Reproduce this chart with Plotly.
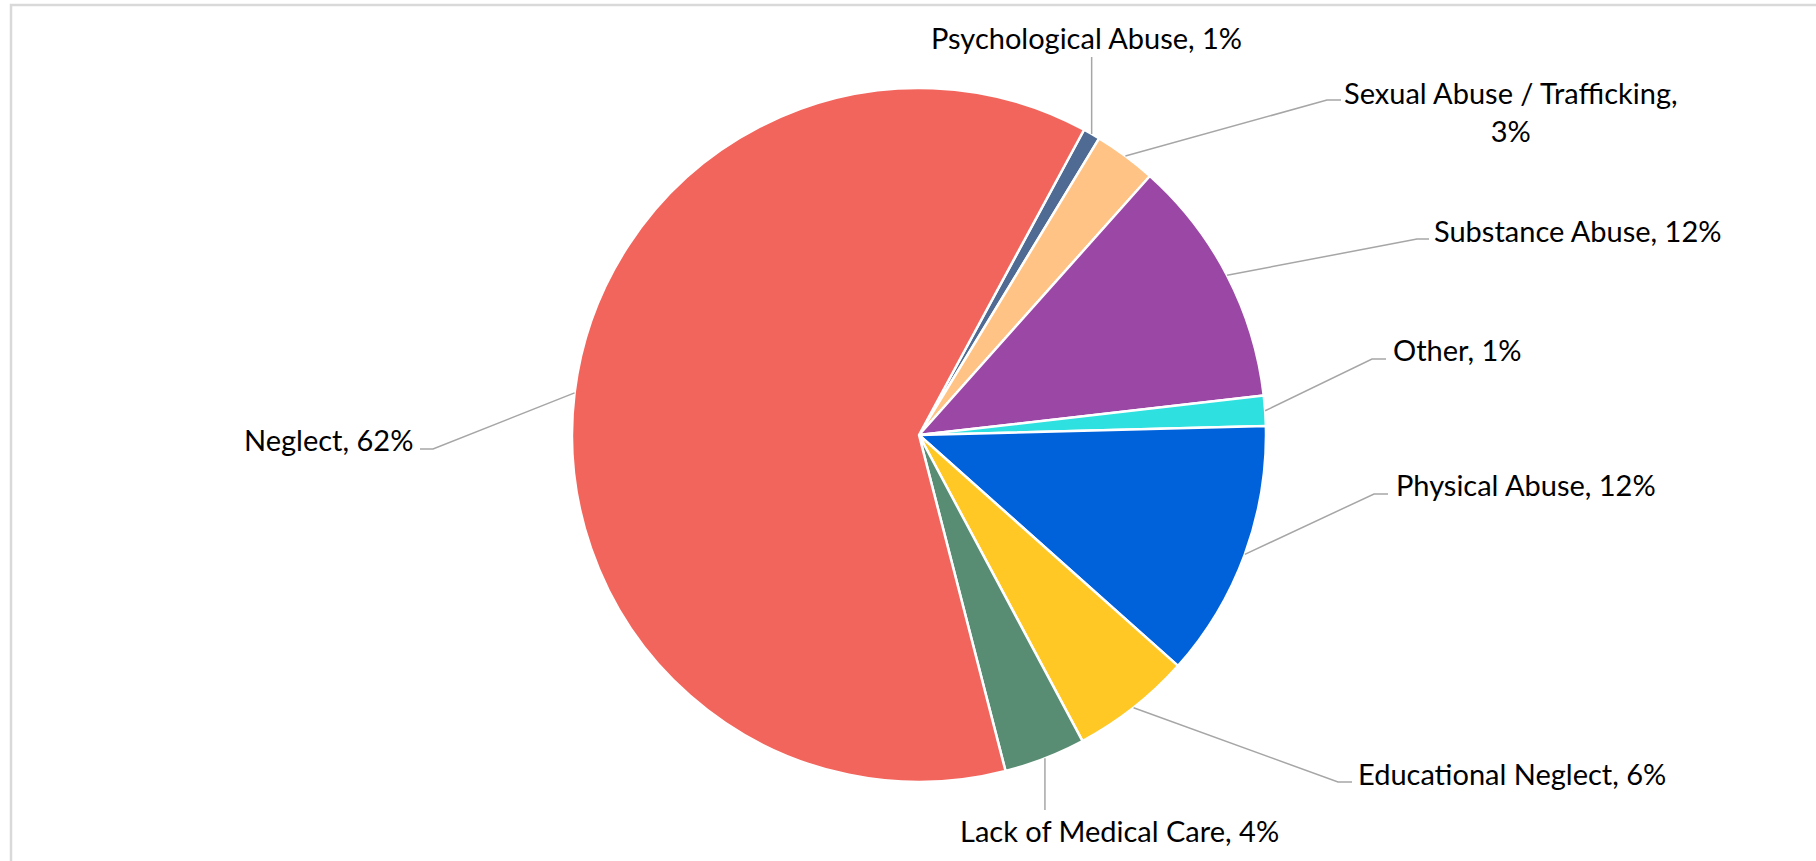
import math
import plotly.graph_objects as go

# ---------------- data ----------------
categories = ["Psychological Abuse", "Sexual Abuse / Trafficking", "Substance Abuse", "Other",
              "Physical Abuse", "Educational Neglect", "Lack of Medical Care", "Neglect"]
values = [0.8, 2.9, 11.6, 1.4, 12.0, 5.6, 3.8, 61.9]
colors = ["#4F6B94", "#FFC385", "#9B47A6", "#2EE0DF", "#0062DB", "#FFC825", "#588C73", "#F1655C"]
label_text = ["Psychological Abuse", "Sexual Abuse / Trafficking,<br>", "Substance Abuse", "Other",
              "Physical Abuse", "Educational Neglect", "Lack of Medical Care", "Neglect"]

# ---------------- layout constants (pixels) ----------------
W, H = 1816, 861
CX, CY, RAD = 919, 435, 347
ROTATION = 28.4
FONT = "Lato"
FSIZE = 29
LINE_COLOR = "#A6A6A6"

# label placement: label anchor (x, y, xanchor), leader elbow and end points
label_layout = [
    dict(x=1086, y=38, xanchor="center", pts=[("start", 57)]),
    dict(x=1511, y=111, xanchor="center", pts=[(1327, 100), (1341, 100)]),
    dict(x=1432, y=230, xanchor="left", pts=[(1417, 239), (1429, 239)]),
    dict(x=1391, y=349, xanchor="left", pts=[(1372, 359), (1386, 359)]),
    dict(x=1394, y=484, xanchor="left", pts=[(1374, 494), (1388, 494)]),
    dict(x=1356, y=773, xanchor="left", pts=[(1338, 782), (1352, 782)]),
    dict(x=1119, y=830, xanchor="center", pts=[("start", 810)]),
    dict(x=415, y=439, xanchor="right", pts=[(433, 449), (420, 449)]),
]


def px(x):
    return x / W


def py(y):
    return 1 - y / H


fig = go.Figure(go.Pie(
    labels=categories,
    values=values,
    sort=False,
    direction="clockwise",
    rotation=ROTATION,
    marker=dict(colors=colors, line=dict(color="white", width=2.5)),
    textinfo="none",
    hoverinfo="label+percent",
    domain=dict(x=[px(CX - RAD), px(CX + RAD)], y=[py(CY + RAD), py(CY - RAD)]),
))

total = sum(values)
shapes = []
annotations = []
cum = 0.0
for i, v in enumerate(values):
    mid = ROTATION + 360.0 * (cum + v / 2.0) / total
    cum += v
    a = math.radians(mid)
    sx = CX + RAD * math.sin(a)
    sy = CY - RAD * math.cos(a)
    lay = label_layout[i]
    path = f"M {px(sx)},{py(sy)}"
    for (ex, ey) in lay["pts"]:
        if ex == "start":
            ex = sx
        path += f" L {px(ex)},{py(ey)}"
    shapes.append(dict(type="path", xref="paper", yref="paper", path=path,
                       line=dict(color=LINE_COLOR, width=1.5)))
    pct = round(100.0 * v / total)
    txt = label_text[i] + ("" if label_text[i].endswith("<br>") else ", ") + f"{pct}%"
    annotations.append(dict(x=px(lay["x"]), y=py(lay["y"]), xref="paper", yref="paper",
                            text=txt, showarrow=False, xanchor=lay["xanchor"], yanchor="middle",
                            align="center", font=dict(family=FONT, size=FSIZE, color="#000000")))

# chart-area border (top and left edges visible)
shapes.append(dict(type="path", xref="paper", yref="paper",
                   path=f"M {px(11)},{py(H + 5)} L {px(11)},{py(5)} L {px(W + 5)},{py(5)}",
                   line=dict(color="#D9D9D9", width=2.5)))

fig.update_layout(
    width=W, height=H,
    margin=dict(l=0, r=0, t=0, b=0),
    paper_bgcolor="white", plot_bgcolor="white",
    showlegend=False,
    shapes=shapes,
    annotations=annotations,
)

fig.write_html("out.html", config={"displayModeBar": False},
               post_script="document.body.style.margin='0';document.body.style.overflow='hidden';")
